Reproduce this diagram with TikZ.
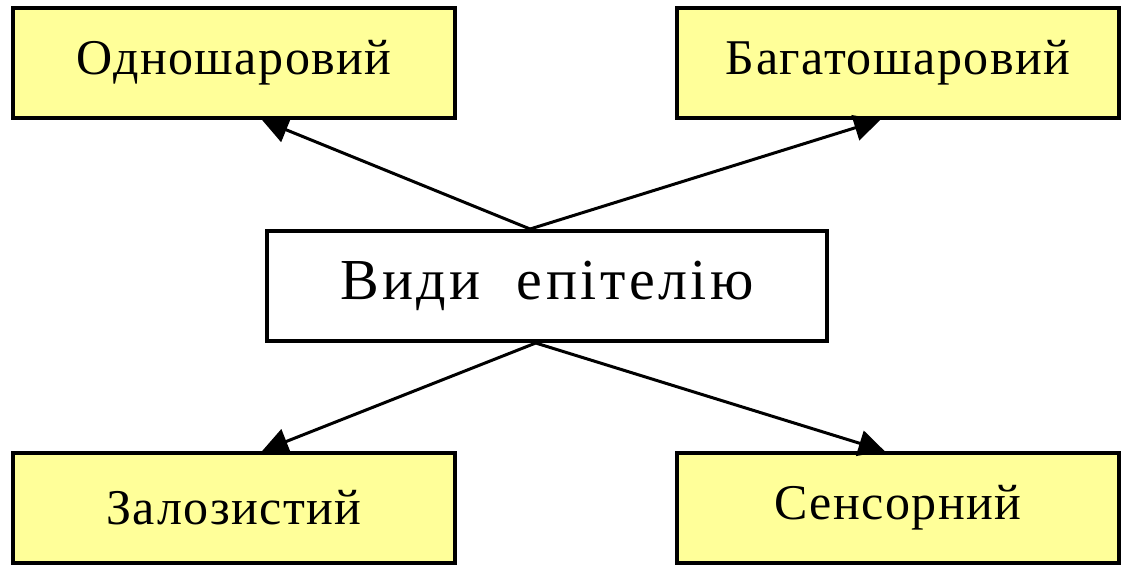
\documentclass[tikz,border=0pt]{standalone}
\usepackage{fontspec}
\setmainfont{Liberation Serif}
\usetikzlibrary{arrows.meta,calc}
\begin{document}
\begin{tikzpicture}[x=0.5pt,y=-0.5pt,
  box/.style={draw=black,line width=2pt,rectangle,inner sep=0pt,font=\fontsize{25}{30}\selectfont\addfontfeature{LetterSpace=3}},
  yellowbox/.style={box,fill=yellowfill,minimum width=221pt,minimum height=55pt},
  centerbox/.style={box,fill=white,minimum width=280pt,minimum height=55pt,font=\fontsize{29}{34}\selectfont\addfontfeature{LetterSpace=6}},
  conn/.style={line width=1.5pt,-{Triangle[length=13pt,width=13pt]}}]
\definecolor{yellowfill}{HTML}{FFFF99}
\useasboundingbox (0,0) rectangle (1124,564);
\node[yellowbox] (tl) at (234,63) {Одношаровий};
\node[yellowbox] (tr) at (898,63) {Багатошаровий};
\node[centerbox] (c) at (547,286) {Види\ \ епітелію};
\node[yellowbox] (bl) at (234,508) {Залозистий};
\node[yellowbox] (br) at (898,508) {Сенсорний};
\coordinate (ct) at ($(c.north west)!0.47!(c.north east)$);
\coordinate (cb) at ($(c.south west)!0.48!(c.south east)$);
\draw[conn] (ct) -- ($(tl.south west)!0.563!(tl.south east)$);
\draw[conn] (ct) -- ($(tr.south west)!0.46!(tr.south east)$);
\draw[conn] (cb) -- ($(bl.north west)!0.563!(bl.north east)$);
\draw[conn] (cb) -- ($(br.north west)!0.47!(br.north east)$);
\end{tikzpicture}
\end{document}
